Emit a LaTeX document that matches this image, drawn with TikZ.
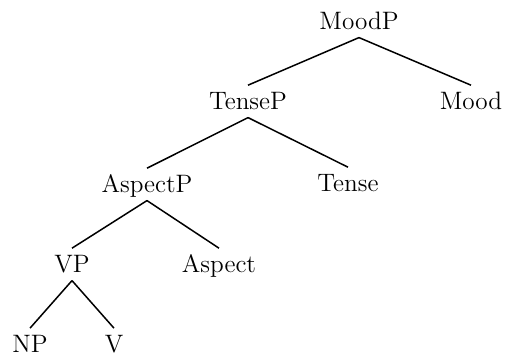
\documentclass[tikz,border=0pt]{standalone}
\begin{document}
\begin{tikzpicture}[
    x=0.5pt, y=-0.5pt,
    every node/.style={font=\fontsize{12.6}{15}\selectfont},
    cat/.style    = {anchor=base, inner xsep=0pt, inner ysep=3.6pt, text height=8.6pt, text depth=0pt},
    branch/.style = {line width=0.75pt},
  ]
\useasboundingbox (0,0) rectangle (505,356);

% defining coordinates
\coordinate (C1) at (359,30);
\coordinate (C2) at (248,110);
\coordinate (C3) at (471,110);
\coordinate (C4) at (147,193);
\coordinate (C5) at (348,192);
\coordinate (C6) at (72,273);
\coordinate (C7) at (219,273);
\coordinate (C8) at (30,353);
\coordinate (C9) at (114,353);

% categories
\node[cat] (moodp)   at (C1) {MoodP};
\node[cat] (tensep)  at (C2) {TenseP};
\node[cat] (mood)    at (C3) {Mood};
\node[cat] (aspectp) at (C4) {AspectP};
\node[cat] (tense)   at (C5) {Tense};
\node[cat] (vp)      at (C6) {VP};
\node[cat] (aspect)  at (C7) {Aspect};
\node[cat] (np)      at (C8) {NP};
\node[cat] (v)       at (C9) {V};

% branches
\foreach \a/\b in {moodp/tensep, moodp/mood, tensep/aspectp, tensep/tense,
                   aspectp/vp, aspectp/aspect, vp/np, vp/v}
    \draw [branch] (\a.south) -- (\b.north);

\end{tikzpicture}
\end{document}
